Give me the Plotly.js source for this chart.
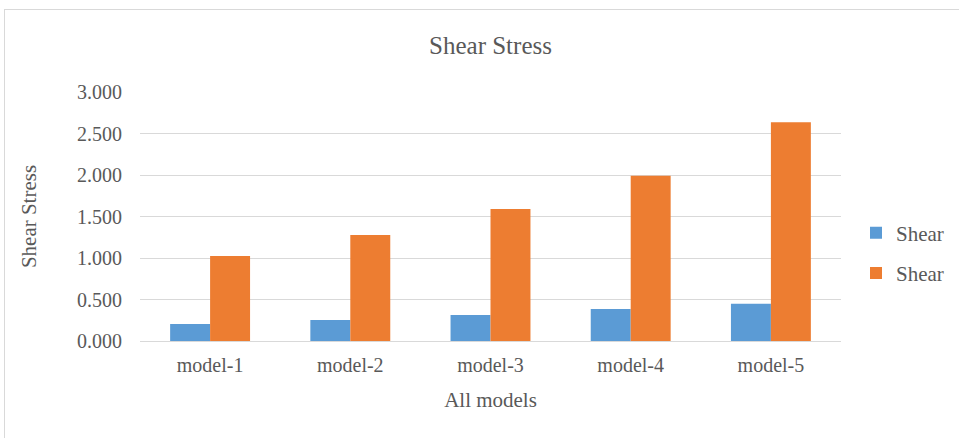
<!DOCTYPE html>
<html><head><meta charset="utf-8">
<script src="https://cdn.plot.ly/plotly-3.0.1.min.js"></script>
<style>
html,body{margin:0;padding:0;background:#fff;overflow:hidden;}
#chart{width:959px;height:438px;position:absolute;left:0;top:0;}
#frame{position:absolute;left:4px;top:9px;width:1200px;height:800px;border:1px solid #d9d9d9;pointer-events:none;}
</style></head>
<body>
<div id="chart"></div>
<div id="frame"></div>
<script>
const categories = ["model-1","model-2","model-3","model-4","model-5"];
const shearBlue = [0.205, 0.253, 0.313, 0.386, 0.450];
const shearOrange = [1.024, 1.277, 1.590, 1.992, 2.635];
const seriesNames = ["Shear","Shear"];

const fam = "Liberation Serif, Times New Roman, serif";
const col = "#595959";
const f = s => ({family:fam, color:col, size:s});
const data = [
  {type:"bar", x:categories, y:shearBlue, name:seriesNames[0], legendgroup:"a", marker:{color:"#5b9bd5"}},
  {type:"bar", x:categories, y:shearOrange, name:seriesNames[1], legendgroup:"b", marker:{color:"#ed7d31"}}
];
const layout = {
  width:959, height:438,
  margin:{l:140, r:118, t:92, b:97},
  paper_bgcolor:"#fff", plot_bgcolor:"#fff",
  barmode:"group", bargap:0.43, bargroupgap:0,
  font:f(20),
  title:{text:"Shear Stress", font:f(25), x:0.5, xref:"paper", y:1-45/438, yanchor:"middle"},
  xaxis:{title:{text:"All models", font:f(21), standoff:17},
         showline:true, linecolor:"#d9d9d9", linewidth:1, ticks:"", tickfont:f(20), showgrid:false, ticklabelstandoff:6},
  yaxis:{title:{text:"Shear Stress", font:f(21), standoff:34},
         range:[0,3], dtick:0.5, tickformat:".3f", showgrid:true, gridcolor:"#d9d9d9", gridwidth:1,
         zeroline:false, ticks:"", tickfont:f(20), ticklabelstandoff:17},
  legend:{xref:"container", yref:"container", x:0.8926, xanchor:"left", y:1-253/438, yanchor:"middle",
          font:f(21), tracegroupgap:10, itemwidth:30, traceorder:"grouped"},
  showlegend:true
};
Plotly.newPlot("chart", data, layout, {displayModeBar:false, staticPlot:true});
</script>
</body></html>
